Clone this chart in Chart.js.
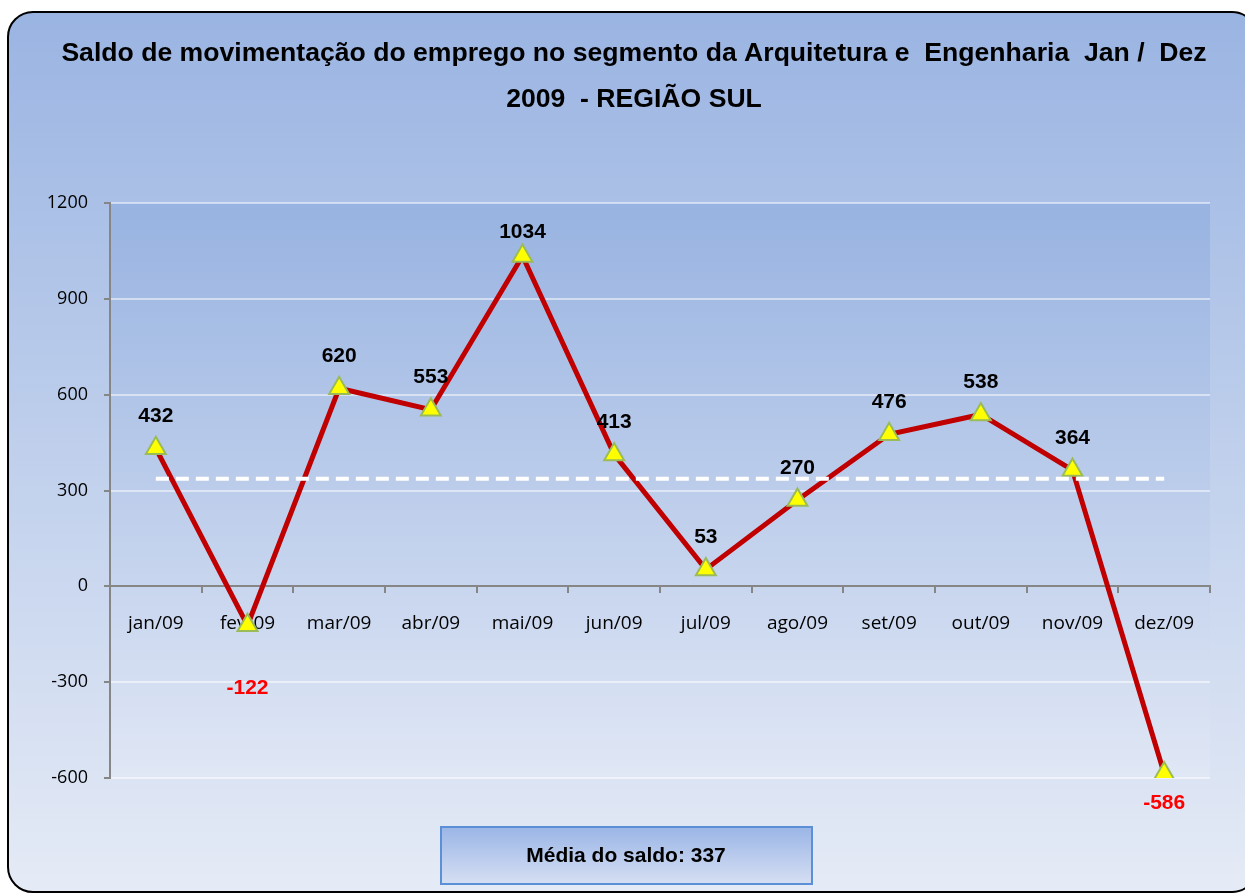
<!DOCTYPE html>
<html><head><meta charset="utf-8">
<script src="https://cdn.jsdelivr.net/npm/chart.js@4/dist/chart.umd.min.js"></script>
<style>html,body{margin:0;padding:0;background:#fff;overflow:hidden}</style>
</head><body>
<canvas id="c" width="1245" height="893"></canvas>
<script>
const categories = ['jan/09','fev/09','mar/09','abr/09','mai/09','jun/09','jul/09','ago/09','set/09','out/09','nov/09','dez/09'];
const saldo = [432, -122, 620, 553, 1034, 413, 53, 270, 476, 538, 364, -586];
const mediaSaldo = 337;
const yTickValues = [-600, -300, 0, 300, 600, 900, 1200];
const titleLines = ['Saldo de movimentação do emprego no segmento da Arquitetura e  Engenharia  Jan /  Dez', '2009  - REGIÃO SUL'];
const legendLabel = 'Média do saldo: ';

const mediaSeries = categories.map(() => mediaSaldo);

function roundRect(ctx, x, y, w, h, r) {
  ctx.beginPath();
  ctx.moveTo(x + r, y);
  ctx.lineTo(x + w - r, y);
  ctx.arcTo(x + w, y, x + w, y + r, r);
  ctx.lineTo(x + w, y + h - r);
  ctx.arcTo(x + w, y + h, x + w - r, y + h, r);
  ctx.lineTo(x + r, y + h);
  ctx.arcTo(x, y + h, x, y + h - r, r);
  ctx.lineTo(x, y + r);
  ctx.arcTo(x, y, x + r, y, r);
  ctx.closePath();
}

const decor = {
  id: 'decor',
  beforeDraw(chart) {
    const ctx = chart.ctx, ca = chart.chartArea;
    ctx.save();
    ctx.fillStyle = '#ffffff';
    ctx.fillRect(0, 0, chart.width, chart.height);
    roundRect(ctx, 8, 12, 1249, 880, 25);
    const g = ctx.createLinearGradient(0, 12, 0, 892);
    g.addColorStop(0, '#9ab4e2');
    g.addColorStop(1, '#e5ebf6');
    ctx.fillStyle = g;
    ctx.fill();
    ctx.lineWidth = 2;
    ctx.strokeStyle = '#000000';
    ctx.stroke();
    // plot area
    const pg = ctx.createLinearGradient(0, ca.top, 0, ca.bottom);
    pg.addColorStop(0, '#98b3e1');
    pg.addColorStop(1, '#e0e7f5');
    ctx.fillStyle = pg;
    ctx.fillRect(ca.left, ca.top, ca.right - ca.left, ca.bottom - ca.top);
    // title
    ctx.fillStyle = '#000';
    ctx.font = 'bold 26.6px "Liberation Sans", Arial, sans-serif';
    ctx.textAlign = 'center';
    ctx.textBaseline = 'middle';
    ctx.fillText(titleLines[0], 634, 54);
    ctx.fillText(titleLines[1], 634, 100);
    // legend box
    const lg = ctx.createLinearGradient(0, 827, 0, 884);
    lg.addColorStop(0, '#9ab5e6');
    lg.addColorStop(1, '#d6dff3');
    ctx.fillStyle = lg;
    ctx.fillRect(441, 827, 371, 57);
    ctx.lineWidth = 2;
    ctx.strokeStyle = '#5b8fd6';
    ctx.strokeRect(441, 827, 371, 57);
    ctx.fillStyle = '#000';
    ctx.font = 'bold 21px "Liberation Sans", Arial, sans-serif';
    ctx.fillText(legendLabel + mediaSaldo, 626, 856);
    ctx.restore();
  },
  afterDatasetsDraw(chart) {
    const ctx = chart.ctx, ca = chart.chartArea;
    const meta = chart.getDatasetMeta(1);
    const zeroY = chart.scales.y.getPixelForValue(0);
    ctx.save();
    ctx.font = 'bold 21px "Liberation Sans", Arial, sans-serif';
    ctx.textAlign = 'center';
    ctx.textBaseline = 'middle';
    meta.data.forEach((pt, i) => {
      const v = saldo[i];
      let y;
      if (v >= 0) {
        ctx.fillStyle = '#000000';
        y = Math.max(pt.y - 32, ca.top + 29);
      } else {
        ctx.fillStyle = '#ff0000';
        y = Math.max(pt.y + 30, zeroY + 102);
      }
      ctx.fillText(String(v), pt.x, y);
    });
    ctx.restore();
  }
};

new Chart(document.getElementById('c'), {
  type: 'line',
  data: {
    labels: categories,
    datasets: [
      {
        label: 'Média',
        data: mediaSeries,
        borderColor: '#ffffff',
        borderWidth: 4,
        borderDash: [13, 7],
        pointRadius: 0,
        fill: false,
        order: 0
      },
      {
        label: 'Saldo',
        data: saldo,
        borderColor: '#c00000',
        borderWidth: 5,
        tension: 0,
        fill: false,
        pointStyle: 'triangle',
        pointRadius: 11.5,
        pointHoverRadius: 11.5,
        pointBackgroundColor: '#ffff00',
        pointBorderColor: '#9bbb59',
        pointBorderWidth: 2,
        order: 1
      }
    ]
  },
  options: {
    responsive: false,
    animation: false,
    events: [],
    layout: { padding: { left: 0, top: 203, right: 35, bottom: 115 } },
    plugins: { legend: { display: false }, title: { display: false }, tooltip: { enabled: false } },
    scales: {
      x: {
        type: 'category',
        position: { y: 0 },
        offset: true,
        grid: { offset: true, drawOnChartArea: false, drawTicks: true, tickLength: 6, tickColor: '#868686', lineWidth: 2 },
        border: { display: true, color: '#868686', width: 2 },
        ticks: { color: '#000', font: { family: '"Open Sans", sans-serif', size: 19 }, padding: 20, maxRotation: 0, autoSkip: false }
      },
      y: {
        min: -600,
        max: 1200,
        afterBuildTicks(scale) { scale.ticks = yTickValues.map(v => ({ value: v })); },
        afterFit(scale) { scale.width = 110; },
        grid: {
          color: ctx => (ctx.tick && ctx.tick.value === 0) ? 'rgba(0,0,0,0)' : 'rgba(255,255,255,0.5)',
          lineWidth: 2,
          tickLength: 6,
          tickColor: '#868686'
        },
        border: { display: true, color: '#868686', width: 2 },
        ticks: { color: '#000', font: { family: '"Open Sans", sans-serif', size: 18 }, padding: 16, callback: v => String(v) }
      }
    }
  },
  plugins: [decor]
});
</script>
</body></html>
